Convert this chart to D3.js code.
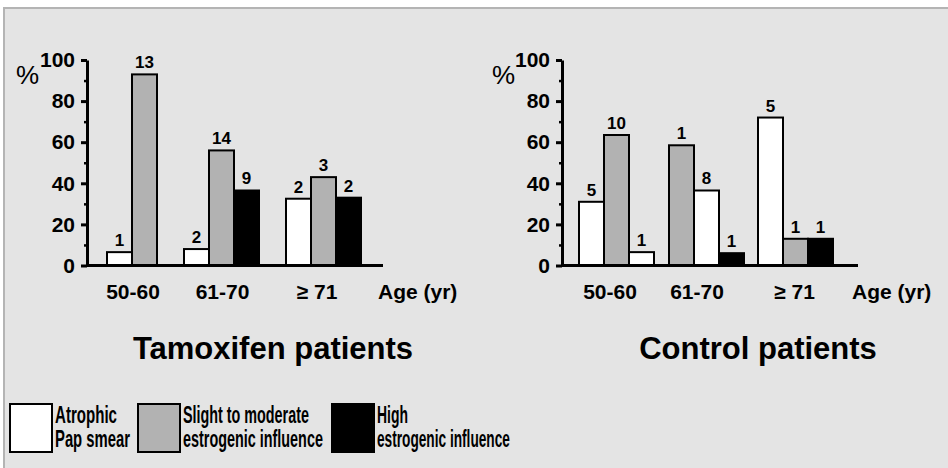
<!DOCTYPE html>
<html><head><meta charset="utf-8">
<script src="https://cdn.jsdelivr.net/npm/d3@7"></script>
<style>
html,body{margin:0;padding:0;background:#fff;}
svg{display:block;font-family:Arial,"Liberation Sans",sans-serif;}
</style></head>
<body>
<svg id="c" width="948" height="468"></svg>
<script>
// ---- data ----
const ageGroups = ["50-60", "61-70", "\u2265 71"];
const categories = ["Atrophic Pap smear", "Slight to moderate estrogenic influence", "High estrogenic influence"];
const legendLines = [["Atrophic", "Pap smear"], ["Slight to moderate", "estrogenic influence"], ["High", "estrogenic influence"]];
const yTicks = [0, 20, 40, 60, 80, 100];
const chartTitles = ["Tamoxifen patients", "Control patients"];
const xAxisTitle = "Age (yr)";

// percentages per age group (three bars each)
const tamoxifenValues = [[6.5, 93, 0], [8, 56, 36.5], [32.5, 43, 33]];
const tamoxifenCounts = [["1", "13", ""], ["2", "14", "9"], ["2", "3", "2"]];
const tamoxifenCats = [[0, 1, 2], [0, 1, 2], [0, 1, 2]];

const controlValues = [[31, 63.5, 6.5], [58.5, 36.5, 6], [72, 13, 13]];
const controlCounts = [["5", "10", "1"], ["1", "8", "1"], ["5", "1", "1"]];
const controlCats = [[0, 1, 0], [1, 0, 2], [0, 1, 2]]; // category shown by each bar, as drawn

// ---- drawing ----
const svg = d3.select("#c");
svg.append("rect").attr("x", 4).attr("y", 8).attr("width", 980).attr("height", 500)
  .attr("fill", "#e4e4e4").attr("stroke", "#b4b4b4").attr("stroke-width", 2);

const fillScale = d3.scaleOrdinal().domain(d3.range(3)).range(["#ffffff", "#b2b2b2", "#000000"]);
const y = d3.scaleLinear().domain([0, 100]).range([265.5, 60]);
const slot = d3.scaleBand().domain(d3.range(3)).range([0, 75]);

const charts = [
  { values: tamoxifenValues, counts: tamoxifenCounts, cats: tamoxifenCats, title: chartTitles[0],
    axisX: 87, xEnd: 383, groupX: [107, 184, 286], labelX: [133, 222.5, 317], ageX: 378, pctX: 16, titleX: 273 },
  { values: controlValues, counts: controlCounts, cats: controlCats, title: chartTitles[1],
    axisX: 562, xEnd: 858, groupX: [579, 669, 758], labelX: [610, 697, 794.5], ageX: 852, pctX: 492, titleX: 758 }
];

charts.forEach(ch => {
  const gx = d3.scaleOrdinal().domain(ageGroups).range(ch.groupX);
  const lx = d3.scaleOrdinal().domain(ageGroups).range(ch.labelX);
  const g = svg.append("g");

  const bars = [];
  ageGroups.forEach((a, i) => ch.values[i].forEach((v, j) => {
    bars.push({ group: a, slot: j, value: v, count: ch.counts[i][j], cat: ch.cats[i][j] });
  }));
  const drawn = bars.filter(b => b.value > 0);

  g.selectAll("rect.bar").data(drawn).join("rect").attr("class", "bar")
    .attr("x", d => gx(d.group) + slot(d.slot))
    .attr("y", d => y(d.value))
    .attr("width", slot.bandwidth())
    .attr("height", d => y(0) - y(d.value))
    .attr("fill", d => fillScale(d.cat))
    .attr("stroke", "#000").attr("stroke-width", 2);

  g.selectAll("text.val").data(drawn).join("text").attr("class", "val")
    .attr("x", d => gx(d.group) + slot(d.slot) + slot.bandwidth() / 2)
    .attr("y", d => y(d.value) - 6)
    .attr("text-anchor", "middle").attr("font-size", 17).attr("font-weight", "bold")
    .text(d => d.count);

  // minor ticks
  const minor = g.append("g").attr("transform", `translate(${ch.axisX},0)`)
    .call(d3.axisLeft(y).tickValues([10, 30, 50, 70, 90]).tickSize(3).tickFormat(""));
  minor.select(".domain").remove();
  minor.selectAll(".tick line").attr("stroke-width", 2.5);

  // y axis
  const ax = g.append("g").attr("transform", `translate(${ch.axisX},0)`)
    .call(d3.axisLeft(y).tickValues(yTicks).tickSize(6).tickSizeOuter(0).tickPadding(6));
  ax.select(".domain").attr("stroke-width", 3);
  ax.selectAll(".tick line").attr("stroke-width", 3);
  ax.selectAll(".tick text").attr("font-size", 21).attr("font-weight", "bold")
    .attr("font-family", "Arial, 'Liberation Sans', sans-serif").attr("fill", "#000");

  // x baseline
  g.append("line").attr("x1", ch.axisX).attr("x2", ch.xEnd).attr("y1", y(0)).attr("y2", y(0))
    .attr("stroke", "#000").attr("stroke-width", 3);

  // x labels
  g.selectAll("text.xl").data(ageGroups).join("text").attr("class", "xl")
    .attr("x", d => lx(d)).attr("y", 299).attr("text-anchor", "middle")
    .attr("font-size", 21).attr("font-weight", "bold").text(d => d);
  g.append("text").attr("x", ch.ageX).attr("y", 299).attr("font-size", 21)
    .attr("font-weight", "bold").text(xAxisTitle);

  // % label
  g.append("text").attr("x", ch.pctX).attr("y", 84).attr("font-size", 26).text("%");

  // title
  g.append("text").attr("x", ch.titleX).attr("y", 359).attr("text-anchor", "middle")
    .attr("font-size", 31).attr("font-weight", "bold").text(ch.title);
});

// legend (condensed text, as in the reference)
const legX = d3.scaleOrdinal().domain(d3.range(3)).range([10, 138, 332]);
const legW = [[62, 75], [126, 140], [31, 133]];
const lg = svg.append("g");
categories.forEach((c, i) => {
  lg.append("rect").attr("x", legX(i)).attr("y", 404).attr("width", 42).attr("height", 48)
    .attr("fill", fillScale(i)).attr("stroke", "#000").attr("stroke-width", 2);
  legendLines[i].forEach((t, k) => {
    const tx = lg.append("text").attr("font-size", 23).attr("font-weight", "bold").text(t);
    const natural = tx.node().getComputedTextLength();
    const k2 = legW[i][k] / natural;
    tx.attr("transform", `translate(${legX(i) + 45},${423 + k * 24}) scale(${k2},1)`);
  });
});
</script>
</body></html>
